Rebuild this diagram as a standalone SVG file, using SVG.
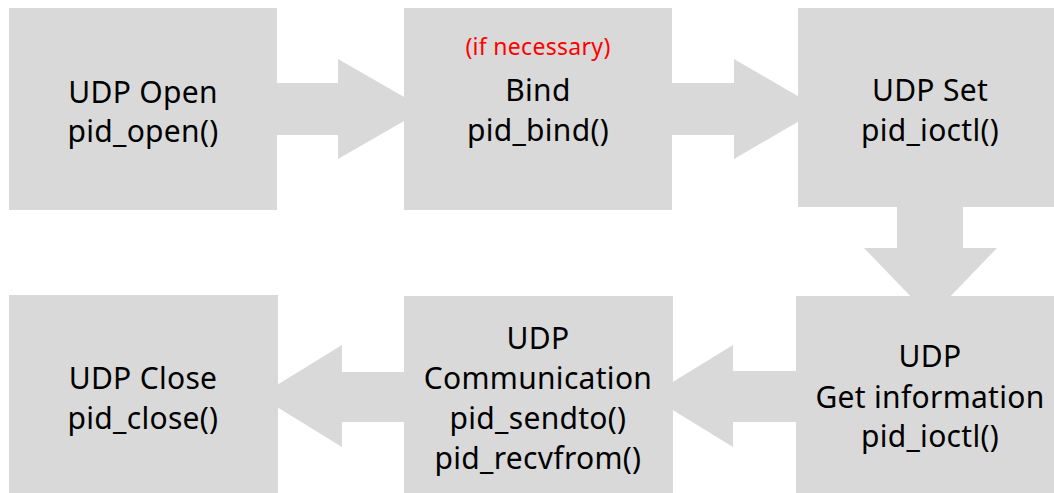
<svg xmlns="http://www.w3.org/2000/svg" width="1054" height="493" viewBox="0 0 1054 493">
<style>
.box{fill:#d9d9d9}
.arr{fill:#d9d9d9}
text{font-family:"Noto Sans","Liberation Sans",sans-serif;font-size:30px;fill:#000;text-anchor:middle;letter-spacing:0.3px}
.red{fill:#ff0000;font-size:23px}
</style>
<rect width="1054" height="493" fill="#ffffff"/>
<g id="connectors">
<polygon class="arr" points="270,83 338,83 338,59 425,109 338,159 338,135 270,135"/>
<polygon class="arr" points="665,83 734,83 734,59 820,109 734,159 734,135 665,135"/>
<polygon class="arr" points="897,200 963,200 963,248 997,248 930.5,317 864,248 897,248"/>
<polygon class="arr" points="800,371 733,371 733,345 650,396 733,447 733,422 800,422"/>
<polygon class="arr" points="410,372 342,372 342,345 259,396 342,447 342,422 410,422"/>
</g>
<g id="udp-open">
<rect class="box" x="9" y="8" width="268" height="202"/>
<text x="143" y="103">UDP Open</text>
<text x="143" y="142">pid_open()</text>
</g>
<g id="bind">
<rect class="box" x="404" y="8" width="268" height="202"/>
<text class="red" x="538" y="55">(if necessary)</text>
<text x="538" y="101">Bind</text>
<text x="538" y="141">pid_bind()</text>
</g>
<g id="udp-set">
<rect class="box" x="798" y="8" width="256" height="199"/>
<text x="930" y="101">UDP Set</text>
<text x="930" y="141">pid_ioctl()</text>
</g>
<g id="udp-get-info">
<rect class="box" x="796" y="296" width="258" height="197"/>
<text x="930" y="367">UDP</text>
<text x="930" y="408">Get information</text>
<text x="930" y="447">pid_ioctl()</text>
</g>
<g id="udp-communication">
<rect class="box" x="404" y="296" width="269" height="197"/>
<text x="538" y="349">UDP</text>
<text x="538" y="389">Communication</text>
<text x="538" y="429">pid_sendto()</text>
<text x="538" y="469">pid_recvfrom()</text>
</g>
<g id="udp-close">
<rect class="box" x="9" y="295" width="269" height="198"/>
<text x="143" y="389">UDP Close</text>
<text x="143" y="429">pid_close()</text>
</g>
</svg>
